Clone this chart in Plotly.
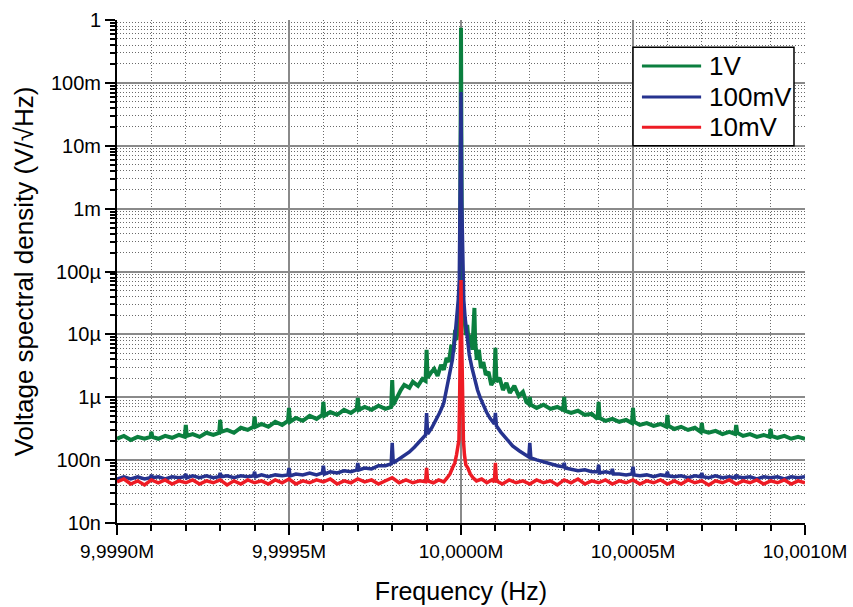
import plotly.graph_objects as go

# Spectrum analyser traces around a 10 MHz carrier, three drive levels.
# Frequency offsets in Hz relative to 10 MHz, densities in dBV/sqrt(Hz).
CENTER_HZ = 10_000_000

names = ["1V", "100mV", "10mV"]
colors = ["#0b7f3f", "#26338f", "#ee1c25"]
widths = [4, 3.5, 3.5]

green_off = [
    -1000, -980, -960, -940, -920, -903, -900, -897, -880, -860, -840, -820, -803, -800, -797,
    -780, -760, -740, -720, -703, -700, -697, -680, -660, -640, -620, -603, -600, -597,
    -580, -560, -540, -520, -503, -500, -497, -480, -460, -440, -420, -403, -400, -397,
    -380, -360, -340, -320, -303, -300, -297, -280, -260, -240, -220, -203, -200, -197,
    -185, -175, -165, -150, -140, -125, -112, -103, -100, -97, -88, -78, -68, -58, -50,
    -42, -35, -28, -22, -17, -13, -9, -6, -3, 0,
    3, 6, 10, 14, 18, 23, 28, 33, 37, 39, 41, 46, 52, 58, 65, 72, 80, 88, 97, 100, 103,
    112, 122, 132, 142, 155, 168, 180, 190, 197, 200, 203, 220, 240, 260, 280, 297, 300,
    303, 320, 340, 360, 380, 397, 400, 403, 420, 440, 460, 480, 497, 500, 503, 520, 540,
    560, 580, 597, 600, 603, 620, 640, 660, 680, 697, 700, 703, 720, 740, 760, 780, 797,
    800, 803, 820, 840, 860, 880, 897, 900, 903, 920, 940, 960, 980, 1000,
]
green_db = [
    -133.2, -132.3, -133.6, -132.6, -133.2, -132.6, -131.0, -132.6, -133.2, -132.3, -132.9, -132.0, -132.6, -128.8, -132.3,
    -131.7, -132.6, -131.3, -132.0, -131.3, -127.2, -131.0, -130.4, -131.3, -129.7, -130.4, -129.4, -126.2, -129.4,
    -128.5, -129.4, -127.8, -128.8, -127.5, -123.4, -127.8, -126.6, -127.5, -125.9, -126.9, -125.6, -121.5, -125.9,
    -124.7, -125.6, -124.0, -125.0, -123.7, -120.2, -124.0, -123.1, -124.0, -122.7, -123.7, -123.1, -114.5, -122.4,
    -119.6, -117.7, -116.1, -117.0, -115.1, -116.4, -114.2, -114.8, -104.9, -113.8, -112.3, -111.0, -113.2, -109.7, -111.3,
    -107.5, -108.8, -103.3, -105.6, -98.6, -101.8, -96.0, -93.8, -90.6, -2.5,
    -90.6, -92.2, -94.8, -100.2, -97.0, -103.3, -100.2, -104.9, -98.6, -91.6, -101.8, -108.1, -104.9, -110.7, -108.8, -112.9, -111.9, -116.1, -114.5, -104.3, -115.1,
    -113.8, -117.7, -115.4, -118.6, -116.4, -119.6, -118.3, -121.5, -122.1, -119.9, -122.4, -123.4, -122.4, -123.7, -123.1, -124.0, -119.9,
    -124.3, -125.0, -124.3, -125.6, -125.3, -126.9, -121.5, -126.6, -127.5, -126.9, -127.8, -127.2, -128.2, -123.4, -127.8, -128.8, -128.2,
    -129.1, -128.5, -129.4, -125.6, -129.1, -130.1, -129.4, -130.4, -129.7, -131.0, -128.2, -130.7, -131.3, -130.7, -131.7, -131.0, -131.7,
    -128.8, -131.3, -132.3, -131.7, -132.6, -132.0, -132.6, -130.1, -132.3, -132.9, -132.3, -133.2, -132.6, -133.2,
]

blue_off = [
    -1000, -980, -960, -940, -920, -903, -900, -897, -880, -860, -840, -820, -803, -800, -797,
    -780, -760, -740, -720, -703, -700, -697, -680, -660, -640, -620, -603, -600, -597,
    -580, -560, -540, -520, -503, -500, -497, -480, -460, -440, -420, -403, -400, -397,
    -380, -360, -340, -320, -303, -300, -297, -280, -260, -240, -220, -203, -200, -197,
    -180, -165, -150, -135, -120, -103, -100, -97, -85, -72, -61, -50, -41, -32, -25,
    -17, -12, -8, -5, -2, 0,
    2, 5, 8, 12, 17, 24, 32, 40, 48, 56, 64, 74, 84, 97, 100, 103, 115, 130, 150, 170,
    185, 197, 200, 203, 220, 240, 260, 280, 297, 300, 303, 320, 340, 360, 380, 397, 400,
    403, 420, 437, 440, 443, 460, 480, 497, 500, 503, 520, 540, 560, 580, 597, 600, 603,
    620, 640, 660, 680, 697, 700, 703, 720, 740, 760, 780, 797, 800, 803, 820, 840, 860,
    880, 900, 920, 940, 960, 980, 1000,
]
blue_db = [
    -146.0, -145.3, -146.0, -145.3, -146.0, -145.6, -144.7, -145.6, -145.3, -146.0, -145.3, -145.6, -145.3, -144.4, -145.6,
    -145.0, -145.6, -145.0, -145.6, -145.3, -144.1, -145.3, -145.0, -145.6, -145.0, -145.3, -145.0, -143.7, -145.3,
    -144.7, -145.3, -144.7, -145.0, -144.7, -142.5, -145.0, -144.4, -144.7, -144.1, -144.7, -144.1, -141.8, -144.4,
    -143.7, -144.1, -143.4, -143.7, -143.1, -140.9, -143.1, -142.5, -142.8, -141.8, -141.8, -141.2, -134.5, -140.9,
    -139.6, -138.3, -137.4, -135.8, -134.2, -132.0, -125.0, -131.7, -129.7, -127.2, -124.7, -121.8, -117.0, -112.9, -108.1,
    -100.2, -94.8, -89.0, -82.7, -57.2, -22.9,
    -57.2, -82.7, -89.0, -94.8, -99.5, -106.5, -110.7, -114.5, -117.7, -120.2, -122.4, -124.7, -126.6, -128.5, -125.0, -129.1, -131.0, -132.9, -135.5, -137.1,
    -138.3, -139.0, -134.5, -139.3, -139.9, -140.6, -141.2, -141.8, -142.1, -140.9, -142.5, -142.8, -143.4, -143.1, -143.7, -143.7, -141.5,
    -144.1, -143.7, -144.1, -142.8, -144.4, -144.4, -144.7, -144.4, -142.1, -144.7, -145.0, -144.7, -145.3, -144.7, -145.0, -143.7, -145.0,
    -145.3, -145.0, -145.6, -145.0, -145.3, -144.1, -145.3, -145.6, -145.0, -145.6, -145.3, -145.6, -144.7, -145.3, -145.6, -145.3, -146.0,
    -145.3, -145.6, -145.3, -146.0, -145.3, -145.6, -145.3,
]

red_off = [
    -1000, -980, -960, -940, -920, -900, -880, -860, -840, -820, -800, -780, -760, -740, -720,
    -700, -680, -660, -640, -620, -600, -580, -560, -540, -520, -500, -480, -460, -440, -420,
    -400, -380, -360, -340, -320, -300, -280, -260, -240, -220, -200, -180, -160, -140, -120,
    -103, -100, -97, -80, -65, -50, -40, -32, -25, -18, -13, -9, -6, -4, -2, 0,
    2, 4, 7, 10, 14, 20, 27, 35, 45, 60, 75, 90, 97, 100, 103, 120, 140, 160, 180, 200,
    220, 240, 260, 280, 300, 320, 340, 360, 380, 400, 420, 440, 460, 480, 500, 520, 540,
    560, 580, 600, 620, 640, 660, 680, 700, 720, 740, 760, 780, 800, 820, 840, 860, 880,
    900, 920, 940, 960, 980, 1000,
]
red_db = [
    -146.9, -146.0, -147.6, -146.6, -147.9, -146.3, -147.2, -146.3, -147.6, -146.6, -147.2, -146.3, -147.6, -146.6, -147.2,
    -146.3, -147.9, -146.6, -147.6, -146.3, -147.2, -146.6, -147.6, -146.3, -147.2, -146.0, -147.6, -146.6, -147.2, -146.3,
    -146.9, -146.0, -147.6, -146.6, -147.2, -146.0, -146.9, -146.3, -147.6, -146.6, -145.6, -147.2, -146.3, -147.2, -146.6,
    -146.9, -142.5, -146.6, -147.2, -146.3, -146.9, -145.6, -144.4, -142.5, -140.9, -138.3, -135.2, -133.6, -120.8, -101.8, -82.7,
    -101.8, -127.2, -133.6, -138.3, -141.5, -142.5, -144.4, -145.6, -146.6, -146.0, -147.2, -146.3, -146.9, -140.9, -146.6, -147.6, -146.3, -147.2, -146.6, -147.6,
    -146.3, -147.2, -146.6, -147.9, -146.3, -147.2, -146.0, -147.6, -146.6, -147.2, -146.3, -147.6, -146.6, -147.2, -146.3, -147.6, -146.6,
    -147.2, -146.3, -147.6, -146.6, -147.6, -146.3, -147.2, -146.6, -147.9, -146.6, -147.2, -146.3, -147.6, -146.6, -147.2, -146.3, -147.6,
    -146.6, -147.2, -146.3, -147.6, -146.6, -147.2,
]

# Axis ticks
x_tick_hz = [9_999_000, 9_999_500, 10_000_000, 10_000_500, 10_001_000]
x_tick_text = ["9,9990M", "9,9995M", "10,0000M", "10,0005M", "10,0010M"]
x_minor_hz = list(range(9_999_100, 10_001_000, 100))
y_tick_vals = [1e-8, 1e-7, 1e-6, 1e-5, 1e-4, 1e-3, 1e-2, 1e-1, 1]
y_tick_text = ["10n", "100n", "1µ", "10µ", "100µ", "1m", "10m", "100m", "1"]
y_minor_vals = [k * 10.0 ** e for e in range(-8, 0) for k in range(2, 10)]

FONT = "Liberation Sans, Arial, sans-serif"
MAJOR_GRID = "#8a8a8a"
MINOR_GRID = "#6a6a6a"

fig = go.Figure()
for name, color, w, off, db in zip(
    names, colors, widths, [green_off, blue_off, red_off], [green_db, blue_db, red_db]
):
    fig.add_trace(
        go.Scatter(
            x=[CENTER_HZ + o for o in off],
            y=[10 ** (d / 20.0) for d in db],
            mode="lines",
            name=name,
            line=dict(color=color, width=w),
            showlegend=False,
        )
    )

fig.update_xaxes(
    range=[9_999_000, 10_001_000],
    automargin=False,
    tickmode="array",
    tickvals=x_tick_hz,
    ticktext=x_tick_text,
    ticks="outside",
    ticklen=10,
    tickwidth=1.5,
    tickcolor="black",
    showline=True,
    linecolor="black",
    linewidth=2,
    showgrid=True,
    gridcolor=MAJOR_GRID,
    gridwidth=1.5,
    zeroline=False,
    tickfont=dict(family=FONT, size=19, color="black"),
    title=dict(text="Frequency (Hz)", font=dict(family=FONT, size=25, color="black"), standoff=22),
    minor=dict(
        tickmode="array",
        tickvals=x_minor_hz,
        ticks="outside",
        ticklen=6,
        tickwidth=1.5,
        tickcolor="black",
        showgrid=True,
        gridcolor=MINOR_GRID,
        griddash="1px,2px",
        gridwidth=1,
    ),
)

fig.update_yaxes(
    type="log",
    range=[-8, 0],
    automargin=False,
    tickmode="array",
    tickvals=y_tick_vals,
    ticktext=y_tick_text,
    ticks="outside",
    ticklen=10,
    tickwidth=1.5,
    tickcolor="black",
    showline=True,
    linecolor="black",
    linewidth=2,
    showgrid=True,
    gridcolor=MAJOR_GRID,
    gridwidth=1.5,
    zeroline=False,
    tickfont=dict(family=FONT, size=20, color="black"),
    title=dict(
        text="Voltage spectral density (V/√Hz)",
        font=dict(family=FONT, size=26, color="black"),
        standoff=10,
    ),
    minor=dict(
        tickmode="array",
        tickvals=y_minor_vals,
        ticks="outside",
        ticklen=5,
        tickwidth=1.5,
        tickcolor="black",
        showgrid=True,
        gridcolor=MINOR_GRID,
        griddash="1px,2px",
        gridwidth=1,
    ),
)

# Legend box drawn in paper coordinates
box_x0, box_x1, box_y0, box_y1 = 0.750, 0.984, 0.750, 0.946
row_y = [0.9085, 0.847, 0.787]
shapes = [
    dict(type="rect", xref="paper", yref="paper", x0=box_x0, x1=box_x1, y0=box_y0, y1=box_y1,
         fillcolor="white", line=dict(color="black", width=1.5), layer="above")
]
annotations = []
for name, color, yy in zip(names, colors, row_y):
    shapes.append(dict(type="line", xref="paper", yref="paper", x0=0.763, x1=0.849, y0=yy, y1=yy,
                       line=dict(color=color, width=3), layer="above"))
    annotations.append(dict(xref="paper", yref="paper", x=0.858, y=yy, text=name, showarrow=False,
                            xanchor="left", yanchor="middle",
                            font=dict(family=FONT, size=26, color="black")))

fig.update_layout(
    width=853,
    height=607,
    margin=dict(l=117, r=48, t=20, b=84),
    paper_bgcolor="white",
    plot_bgcolor="white",
    font=dict(family=FONT, color="black"),
    shapes=shapes,
    annotations=annotations,
)

fig.write_html("out.html")
